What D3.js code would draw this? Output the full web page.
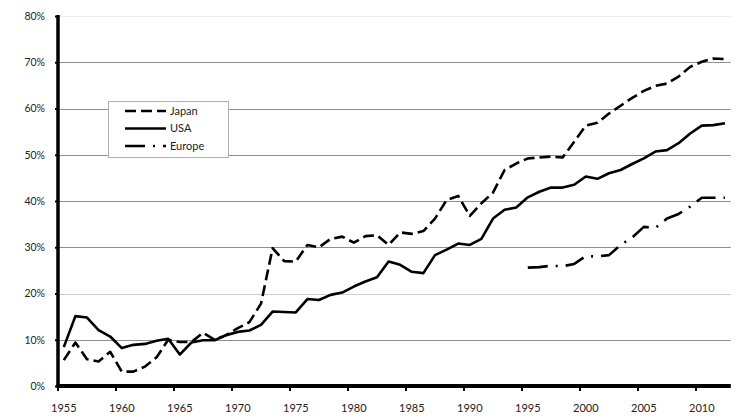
<!DOCTYPE html>
<html>
<head>
<meta charset="utf-8">
<script src="https://cdn.jsdelivr.net/npm/d3@7"></script>
<style>
  body { margin: 0; background: #fff; }
  text { font-family: Lato, "DejaVu Sans", sans-serif; fill: #222; }
</style>
</head>
<body>
<svg id="canvas"></svg>
<script>
let years = d3.range(1955, 2013)

// share of ... in percent (null = no data)
let japan = [5.6, 9.4, 5.8, 5.3, 7.4, 3.1, 3.1, 4.2, 6.2, 10.0,
             9.5, 9.5, 11.5, 10.0, 11.0, 12.5, 13.8, 17.8, 29.8, 27.0,
             26.9, 30.5, 30.0, 31.8, 32.3, 31.0, 32.4, 32.6, 30.5, 33.2,
             32.9, 33.5, 36.2, 40.2, 41.1, 36.8, 39.5, 41.8, 46.7, 48.1,
             49.2, 49.4, 49.6, 49.4, 52.8, 56.3, 56.9, 58.9, 60.6, 62.3,
             63.8, 64.9, 65.4, 66.9, 69.0, 70.1, 70.8, 70.7]

let usa = [8.4, 15.1, 14.8, 12.1, 10.7, 8.2, 8.9, 9.1, 9.8, 10.2,
           6.8, 9.4, 9.9, 9.9, 11.0, 11.7, 12.0, 13.2, 16.1, 16.0,
           15.9, 18.8, 18.6, 19.7, 20.2, 21.5, 22.6, 23.5, 26.9, 26.2,
           24.7, 24.4, 28.3, 29.5, 30.8, 30.5, 31.8, 36.2, 38.1, 38.6,
           40.8, 42.0, 42.9, 42.9, 43.5, 45.3, 44.8, 46.0, 46.7, 48.0,
           49.2, 50.7, 51.0, 52.5, 54.6, 56.3, 56.4, 56.8]

let europe = [null, null, null, null, null, null, null, null, null, null,
              null, null, null, null, null, null, null, null, null, null,
              null, null, null, null, null, null, null, null, null, null,
              null, null, null, null, null, null, null, null, null, null,
              25.6, 25.7, 26.0, 25.9, 26.4, 28.1, 28.0, 28.3, 30.5, 32.1,
              34.4, 34.2, 36.2, 37.2, 38.8, 40.7, 40.7, 40.7]

let yTicks = [0, 10, 20, 30, 40, 50, 60, 70, 80]
let xTickYears = [1955, 1960, 1965, 1970, 1975, 1980, 1985, 1990, 1995, 2000, 2005, 2010]

let seriesNames = ['Japan', 'USA', 'Europe']
let seriesData = [japan, usa, europe]
let dashes = ['11,5', null, '20,8,2,8']

let width = 743
let height = 417
let plotLeft = 58
let plotRight = 730.8
let plotTop = 16
let plotBottom = 386

let canvas = d3.select('#canvas')
canvas.attr('width', width)
      .attr('height', height)

let xScale = d3.scaleBand()
               .domain(years)
               .range([plotLeft, plotRight])
let bw = xScale.bandwidth()
let yScale = d3.scaleLinear()
               .domain([0, 80])
               .range([plotBottom, plotTop])

// grid
canvas.append('g')
      .selectAll('line')
      .data(yTicks.filter(d => d > 0))
      .enter()
      .append('line')
      .attr('x1', plotLeft)
      .attr('x2', plotRight)
      .attr('y1', d => Math.round(yScale(d)) + 0.5)
      .attr('y2', d => Math.round(yScale(d)) + 0.5)
      .attr('stroke', d => d === 80 ? '#eeeeee' : (d === 20 ? '#cccccc' : '#8f8f8f'))
      .attr('stroke-width', 1)

// lines
let line = d3.line()
             .defined(d => d.v !== null)
             .x(d => xScale(d.year) + bw / 2)
             .y(d => yScale(d.v))

seriesData.forEach((vals, i) => {
    canvas.append('path')
          .datum(years.map((year, j) => ({year: year, v: vals[j]})))
          .attr('d', line)
          .attr('fill', 'none')
          .attr('stroke', '#000')
          .attr('stroke-width', 2.6)
          .attr('stroke-linejoin', 'round')
          .attr('stroke-dasharray', dashes[i])
})

// y axis
let yAxis = d3.axisLeft(yScale)
              .tickValues(yTicks)
              .tickFormat(d => d + '%')
              .tickSize(3)
              .tickPadding(10)
let gy = canvas.append('g')
               .attr('transform', 'translate(' + plotLeft + ',0)')
               .call(yAxis)
gy.select('.domain').remove()
gy.selectAll('.tick line').attr('stroke', '#000').attr('stroke-width', 2)
gy.selectAll('.tick text').style('font-size', '10.5px').style('font-family', 'Lato, sans-serif').attr('fill', '#222')
gy.append('line')
  .attr('x1', 0).attr('x2', 0)
  .attr('y1', plotTop - 1).attr('y2', plotBottom + 1)
  .attr('stroke', '#000').attr('stroke-width', 3.5)

// x axis: labels at category centres, ticks at category edges
let xAxis = d3.axisBottom(xScale)
              .tickValues(xTickYears)
              .tickSize(0)
              .tickPadding(18)
let gx = canvas.append('g')
               .attr('transform', 'translate(0,' + plotBottom + ')')
               .call(xAxis)
gx.select('.domain').remove()
gx.selectAll('.tick text').style('font-size', '11px').style('font-family', 'Lato, sans-serif').attr('fill', '#222')
gx.selectAll('.edge')
  .data(xTickYears)
  .enter()
  .append('line')
  .attr('class', 'edge')
  .attr('x1', d => xScale(d))
  .attr('x2', d => xScale(d))
  .attr('y1', 0)
  .attr('y2', 5)
  .attr('stroke', '#000')
  .attr('stroke-width', 2)
gx.append('line')
  .attr('x1', plotLeft - 1.5).attr('x2', plotRight)
  .attr('y1', 0).attr('y2', 0)
  .attr('stroke', '#000').attr('stroke-width', 4)

// legend
let legend = canvas.append('g')
legend.append('rect')
      .attr('x', 108.5).attr('y', 101.5)
      .attr('width', 120).attr('height', 56)
      .attr('fill', '#fff')
      .attr('stroke', '#b0b0b0')
seriesNames.forEach((name, i) => {
    let ly = 111 + i * 17.5
    legend.append('line')
          .attr('x1', 125).attr('x2', 166)
          .attr('y1', ly).attr('y2', ly)
          .attr('stroke', '#000')
          .attr('stroke-width', 2.6)
          .attr('stroke-dasharray', dashes[i])
    legend.append('text')
          .attr('x', 170)
          .attr('y', ly)
          .attr('dy', '0.35em')
          .style('font-size', '11px')
          .text(name)
})
</script>
</body>
</html>
